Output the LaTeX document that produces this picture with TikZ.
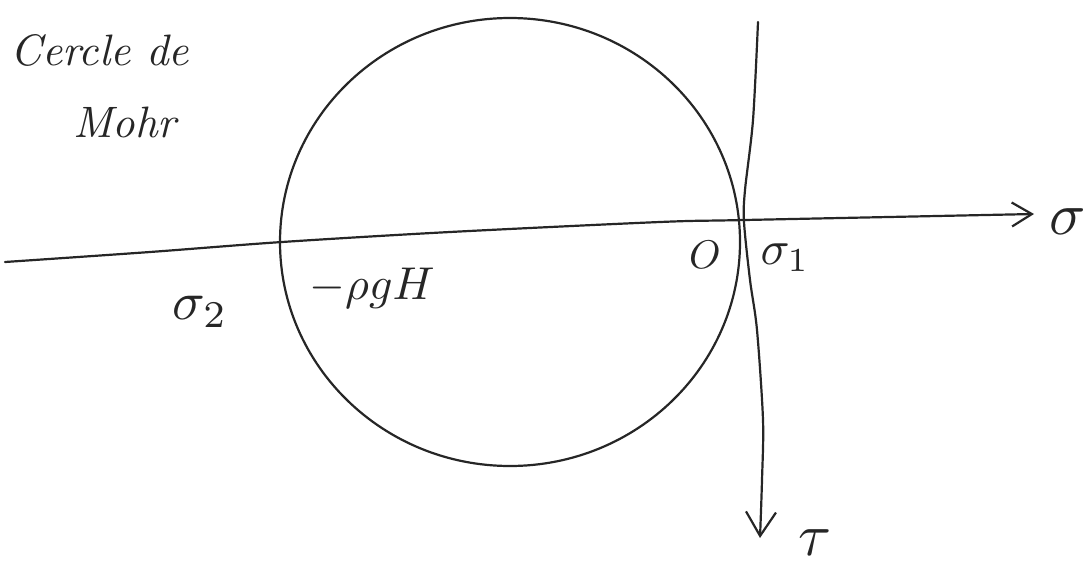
\documentclass[tikz,border=0pt]{standalone}
\usepackage{fontspec}
\usetikzlibrary{arrows.meta}
\begin{document}
\begin{tikzpicture}[x=1pt,y=-1pt,
  ink/.style={line width=2.2pt,line cap=round,line join=round,black!85},
  lbl/.style={inner sep=0pt,text=black!85}]
\useasboundingbox (0,0) rectangle (1091,570);
% title
\node[lbl,scale=4.4] (t1) at (100,50) {\itshape Cercle de};
\node[lbl,scale=4.4] (t2) at (125,122) {\itshape Mohr};
% Mohr circle
\draw[ink] (510,242) ellipse [x radius=230,y radius=224];
% sigma axis
\coordinate (sl) at (5,262);
\coordinate (st) at (1034,214);
\draw[ink,-{Straight Barb[length=20pt,width=24pt,line width=2.2pt]}]
  plot[smooth,tension=0.5] coordinates {(5,262) (150,252) (282,242) (450,232) (660,222) (745,220) (1034,214)};
% tau axis
\coordinate (tt) at (758,22);
\coordinate (tb) at (760,538);
\draw[ink,-{Straight Barb[length=24pt,width=30pt,line width=2.2pt]}]
  plot[smooth,tension=0.5] coordinates {(758,22) (753,120) (745,190) (744,222) (750,280) (757,330) (763,420) (762,480) (760,538)};
% labels
\node[lbl,scale=5.4] (s2) at (200,312) {$\sigma_2$};
\node[lbl,scale=4.6] (rgh) at (372,288) {$-\rho g H$};
\node[lbl,scale=4] (o) at (705,255) {$O$};
\node[lbl,scale=4.8] (s1) at (785,258) {$\sigma_1$};
\node[lbl,scale=6] (s) at (1068,222) {$\sigma$};
\node[lbl,scale=6] (tau) at (815,543) {$\tau$};
\end{tikzpicture}
\end{document}
